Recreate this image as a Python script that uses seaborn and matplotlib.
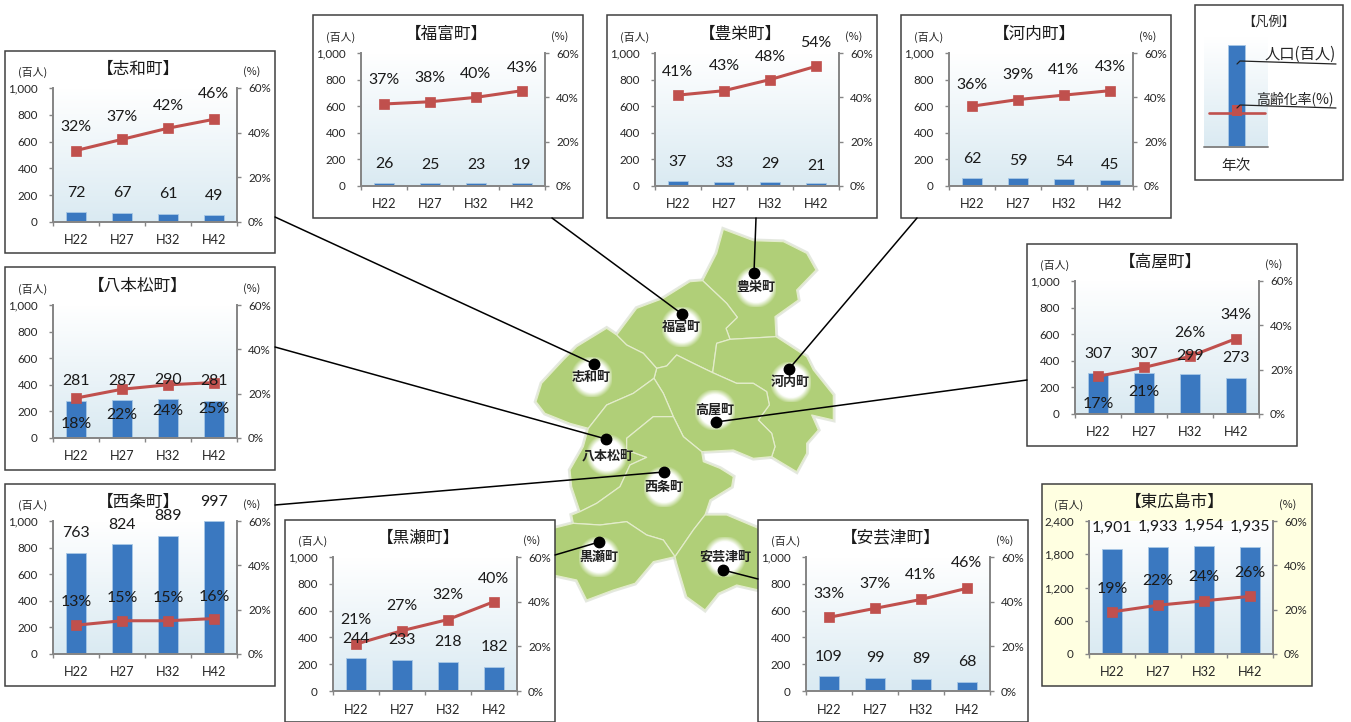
import numpy as np
import pandas as pd
import matplotlib
matplotlib.use("Agg")
import matplotlib.pyplot as plt
from matplotlib.patches import Rectangle, Polygon
import seaborn as sns

W, H = 1351, 722
years = ["H22", "H27", "H32", "H42"]

shiwa_pop = [72, 67, 61, 49];           shiwa_rate = [32, 37, 42, 46]
fukutomi_pop = [26, 25, 23, 19];        fukutomi_rate = [37, 38, 40, 43]
toyosaka_pop = [37, 33, 29, 21];        toyosaka_rate = [41, 43, 48, 54]
kouchi_pop = [62, 59, 54, 45];          kouchi_rate = [36, 39, 41, 43]
takaya_pop = [307, 307, 299, 273];      takaya_rate = [17, 21, 26, 34]
hachi_pop = [281, 287, 290, 281];       hachi_rate = [18, 22, 24, 25]
saijo_pop = [763, 824, 889, 997];       saijo_rate = [13, 15, 15, 16]
kurose_pop = [244, 233, 218, 182];      kurose_rate = [21, 27, 32, 40]
akitsu_pop = [109, 99, 89, 68];         akitsu_rate = [33, 37, 41, 46]
city_pop = [1901, 1933, 1954, 1935];    city_rate = [19, 22, 24, 26]

# name, pop, rate, frame(l,t,r,b), plot(l,t,r,b), pop label y, rate label y, ymax, ystep, frame colour
panels = [
    ("【志和町】", shiwa_pop, shiwa_rate, (5, 51, 275, 253), (53, 88, 237, 222),
     [193, 193, 194, 196], [127, 117, 106, 94], 1000, 200, "white"),
    ("【福富町】", fukutomi_pop, fukutomi_rate, (313, 15, 583, 218), (361, 53, 545, 186),
     [164, 165, 165, 165], [80, 78, 74, 68], 1000, 200, "white"),
    ("【豊栄町】", toyosaka_pop, toyosaka_rate, (607, 15, 877, 218), (655, 53, 839, 186),
     [162, 163, 164, 166], [72, 66, 57, 43], 1000, 200, "white"),
    ("【河内町】", kouchi_pop, kouchi_rate, (901, 15, 1171, 218), (949, 53, 1133, 186),
     [159, 161, 162, 165], [85, 75, 70, 67], 1000, 200, "white"),
    ("【高屋町】", takaya_pop, takaya_rate, (1027, 244, 1297, 446), (1075, 281, 1259, 414),
     [354, 354, 356, 358], [404, 392, 333, 315], 1000, 200, "white"),
    ("【八本松町】", hachi_pop, hachi_rate, (5, 267, 275, 470), (53, 305, 237, 438),
     [381, 381, 380, 381], [424, 415, 411, 409], 1000, 200, "white"),
    ("【西条町】", saijo_pop, saijo_rate, (5, 484, 275, 686), (53, 521, 237, 654),
     [533, 525, 516, 502], [602, 598, 598, 597], 1000, 200, "white"),
    ("【黒瀬町】", kurose_pop, kurose_rate, (285, 520, 555, 722), (333, 557, 517, 691),
     [639, 640, 642, 647], [620, 606, 595, 579], 1000, 200, "white"),
    ("【安芸津町】", akitsu_pop, akitsu_rate, (758, 520, 1028, 722), (806, 557, 990, 691),
     [657, 658, 659, 662], [594, 584, 575, 563], 1000, 200, "white"),
    ("【東広島市】", city_pop, city_rate, (1042, 484, 1312, 686), (1089, 521, 1273, 654),
     [528, 527, 526, 527], [589, 581, 577, 573], 2400, 600, "#FFFFE1"),
]

# Map outlines, in 3x-zoomed map coordinates
map_towns = {
    "豊栄町": [(610,28),(700,62),(790,65),(860,100),(888,150),(830,210),(835,240),(765,290),(768,350),(630,358),(618,325),(652,292),(620,250),(548,182),(590,100)],
    "福富町": [(548,182),(620,250),(652,292),(618,325),(630,358),(590,370),(578,458),(520,430),(470,405),(440,438),(410,445),(370,400),(320,375),(290,345),(350,265),(430,235),(510,185)],
    "河内町": [(630,358),(768,350),(860,410),(880,450),(940,525),(940,600),(875,585),(895,630),(860,670),(860,700),(830,755),(755,710),(765,680),(755,640),(715,600),(748,555),(740,515),(700,490),(650,490),(578,458),(590,370)],
    "高屋町": [(578,458),(650,490),(700,490),(740,515),(748,555),(715,600),(755,640),(765,680),(755,710),(700,715),(640,690),(545,695),(490,650),(460,590),(430,520),(402,475),(410,445),(440,438),(470,405),(520,430)],
    "志和町": [(290,345),(320,375),(370,400),(410,445),(402,475),(340,520),(260,555),(205,625),(150,610),(75,580),(48,545),(65,490),(130,420),(170,380),(260,325)],
    "八本松町": [(402,475),(430,520),(460,590),(400,590),(320,655),(320,690),(380,712),(330,735),(300,800),(230,850),(180,875),(155,800),(150,750),(190,680),(205,625),(260,555),(340,520)],
    "西条町": [(460,590),(490,650),(545,695),(550,725),(600,745),(640,770),(635,800),(570,840),(555,885),(520,930),(465,1010),(430,960),(380,945),(320,905),(240,915),(160,910),(155,885),(180,875),(230,850),(300,800),(330,735),(380,712),(320,690),(320,655),(400,590)],
    "黒瀬町": [(160,910),(240,915),(320,905),(380,945),(430,960),(465,1010),(400,1025),(345,1090),(280,1110),(200,1140),(170,1080),(100,1065),(100,925)],
    "安芸津町": [(555,885),(620,885),(715,925),(760,960),(760,1120),(650,1095),(595,1120),(555,1170),(500,1130),(470,1030),(465,1010),(520,930)],
}
map_labels = [("豊栄町", 708, 200), ("福富町", 485, 322), ("志和町", 215, 472), ("河内町", 812, 487),
              ("高屋町", 585, 570), ("八本松町", 262, 705), ("西条町", 432, 800), ("黒瀬町", 238, 1012),
              ("安芸津町", 615, 1010)]
# leader lines in figure pixels: frame edge -> dot
leaders = [((275, 217), (594, 364)), ((552, 218), (682, 314)), ((756, 218), (754, 273)),
           ((917, 218), (789, 369)), ((1027, 380), (716, 422)), ((275, 347), (606, 439)),
           ((275, 505), (664, 472)), ((555, 555), (599, 542)), ((758, 579), (723, 570))]

sns.set_theme(style="white")
FONT = ["Lato", "Noto Sans CJK JP", "DejaVu Sans"]
CJK = ["Noto Sans CJK JP", "DejaVu Sans"]
plt.rcParams["font.family"] = FONT

BAR, LINE, AXC, TXT = "#3A78C0", "#C0504D", "#868686", "#262626"
GRAD = np.linspace(0, 1, 128)[:, None, None] * (np.array([218, 234, 242]) / 255) + \
       (1 - np.linspace(0, 1, 128)[:, None, None]) * np.array([1.0, 1.0, 1.0])

fig = plt.figure(figsize=(W / 100, H / 100), dpi=100, facecolor="white")
canvas = fig.add_axes([0, 0, 1, 1], zorder=0)
canvas.set_axis_off()


def mp(pts):
    return [(520 + x / 3, 220 + y / 3) for x, y in pts]


# map
for pts in map_towns.values():
    canvas.add_patch(Polygon(mp(pts), closed=True, fc="none", ec="#D3DACB", lw=3.2, alpha=0.6, zorder=1))
for pts in map_towns.values():
    canvas.add_patch(Polygon(mp(pts), closed=True, fc="#B0CF78", ec="#E3ECCB", lw=0.9, zorder=2, joinstyle="round"))
yy, xx = np.mgrid[-1:1:80j, -1:1:80j]
glow = np.ones((80, 80, 4))
glow[..., 3] = np.clip((1.08 - np.hypot(xx, yy)) / 0.3, 0, 1)
for name, x, y in map_labels:
    cx, cy = mp([(x, y)])[0]
    canvas.imshow(glow, extent=(cx - 20, cx + 20, cy + 20, cy - 20), zorder=3, aspect="auto")
    canvas.text(cx, cy, name, family=CJK, fontsize=9.4, fontweight="bold", color="#222222",
                ha="center", va="center", zorder=4)

# frames
for p in panels:
    l, t, r, b = p[3]
    canvas.add_patch(Rectangle((l, t), r - l, b - t, fc=p[9], ec="#404040", lw=1.1, zorder=5))
for a, b in leaders:
    canvas.plot([a[0], b[0]], [a[1], b[1]], color="black", lw=1.1, zorder=6)
    canvas.plot([b[0]], [b[1]], "o", color="black", ms=7.5, zorder=6)

# legend box
canvas.add_patch(Rectangle((1195, 5), 148, 175, fc="white", ec="#404040", lw=1.1, zorder=5))
canvas.imshow(GRAD, extent=(1204, 1268, 147, 37), zorder=6, aspect="auto")
canvas.add_patch(Rectangle((1228, 45), 17, 102, fc=BAR, ec="#A8C8E6", lw=0.6, zorder=7))
canvas.plot([1204, 1268], [147, 147], color=AXC, lw=1.4, zorder=7)
canvas.plot([1209, 1265], [113, 113], color=LINE, lw=1.9, zorder=8)
canvas.add_patch(Rectangle((1232, 105), 10, 11, fc=LINE, ec="none", zorder=8))
canvas.plot([1237, 1240, 1336], [64, 61, 64], color="#222222", lw=0.9, zorder=9)
canvas.plot([1237, 1240, 1336], [108, 105, 108], color="#222222", lw=0.9, zorder=9)
canvas.text(1269, 22, "【凡例】", family=CJK, fontsize=9.5, ha="center", va="center", color=TXT, zorder=9)
canvas.text(1300, 54, "人口(百人)", family=CJK, fontsize=11, ha="center", va="center", color=TXT, zorder=9)
canvas.text(1295, 99, "高齢化率(%)", family=CJK, fontsize=10, ha="center", va="center", color=TXT, zorder=9)
canvas.text(1236, 166, "年次", family=CJK, fontsize=10.5, ha="center", va="center", color=TXT, zorder=9)

canvas.set_xlim(0, W)
canvas.set_ylim(H, 0)


def draw_panel(name, pop, rate, frame, plot, pop_y, rate_y, ymax, ystep, fc):
    l, t, r, b = plot
    ax = fig.add_axes([l / W, 1 - b / H, (r - l) / W, (b - t) / H], zorder=2)
    df = pd.DataFrame({"year": years, "pop": pop, "rate": rate})
    ax.imshow(GRAD, extent=(0, 1, 0, 1), transform=ax.transAxes, aspect="auto", zorder=0)
    sns.barplot(data=df, x="year", y="pop", ax=ax, color=BAR, saturation=1, width=0.45,
                edgecolor="#A8C8E6", linewidth=0.6, zorder=2)
    ax.set_xlim(-0.5, 3.5)
    ax.set_ylim(0, ymax)
    ax.set_yticks(np.arange(0, ymax + 1, ystep))
    ax.set_yticklabels([f"{v:,}" for v in np.arange(0, ymax + 1, ystep)])
    ax.set_xlabel("")
    ax.set_ylabel("")
    ax2 = ax.twinx()
    ax2.set_zorder(3)
    sns.lineplot(data=df, x="year", y="rate", ax=ax2, color=LINE, lw=2.2, marker="s", ms=7.5,
                 mec=LINE, mew=0.5, sort=False, legend=False)
    ax2.set_ylim(0, 60)
    ax2.set_yticks([0, 20, 40, 60])
    ax2.set_yticklabels(["0%", "20%", "40%", "60%"])
    ax2.set_ylabel("")
    ax2.set_xlabel("")
    ax.set_xlim(-0.5, 3.5)
    ax.set_xticks([0, 1, 2, 3])
    ax.set_xticks([-0.5, 0.5, 1.5, 2.5, 3.5], minor=True)
    ax.tick_params(axis="x", which="major", length=0, pad=9, labelsize=9.2, colors=TXT)
    ax.tick_params(axis="x", which="minor", length=3, width=1, color=AXC, bottom=True)
    ax.tick_params(axis="y", length=3, width=1, color=AXC, left=True, labelsize=8.4, labelcolor=TXT, pad=8)
    ax2.tick_params(axis="y", length=3, width=1, color=AXC, right=True, labelsize=8.4, labelcolor=TXT, pad=5)
    for a in (ax, ax2):
        a.spines["top"].set_visible(False)
        for s in ("left", "right", "bottom"):
            a.spines[s].set_color(AXC)
            a.spines[s].set_linewidth(1.3)
    for i in range(4):
        for txt, py in ((f"{pop[i]:,}", pop_y[i]), (f"{rate[i]}%", rate_y[i])):
            ax2.text(i, (b - py) / (b - t) * 60, txt, ha="center", va="center", fontsize=11.4,
                     color="#1A1A1A", clip_on=False, zorder=10)
    fx = (frame[0] + frame[2]) / 2
    ax2.text((fx - l - 2) / (r - l), 1 + 19 / (b - t), name, transform=ax2.transAxes, family=CJK, fontsize=12,
             ha="center", va="center", color="#1A1A1A")
    ax2.text(-20 / (r - l), 1 + 16 / (b - t), "(百人)", transform=ax2.transAxes, family=CJK, fontsize=7.8,
             ha="center", va="center", color=TXT)
    ax2.text(1 + 15 / (r - l), 1 + 16 / (b - t), "(%)", transform=ax2.transAxes, family=CJK, fontsize=7.8,
             ha="center", va="center", color=TXT)


for p in panels:
    draw_panel(*p)

fig.savefig("out.png", dpi=100)
